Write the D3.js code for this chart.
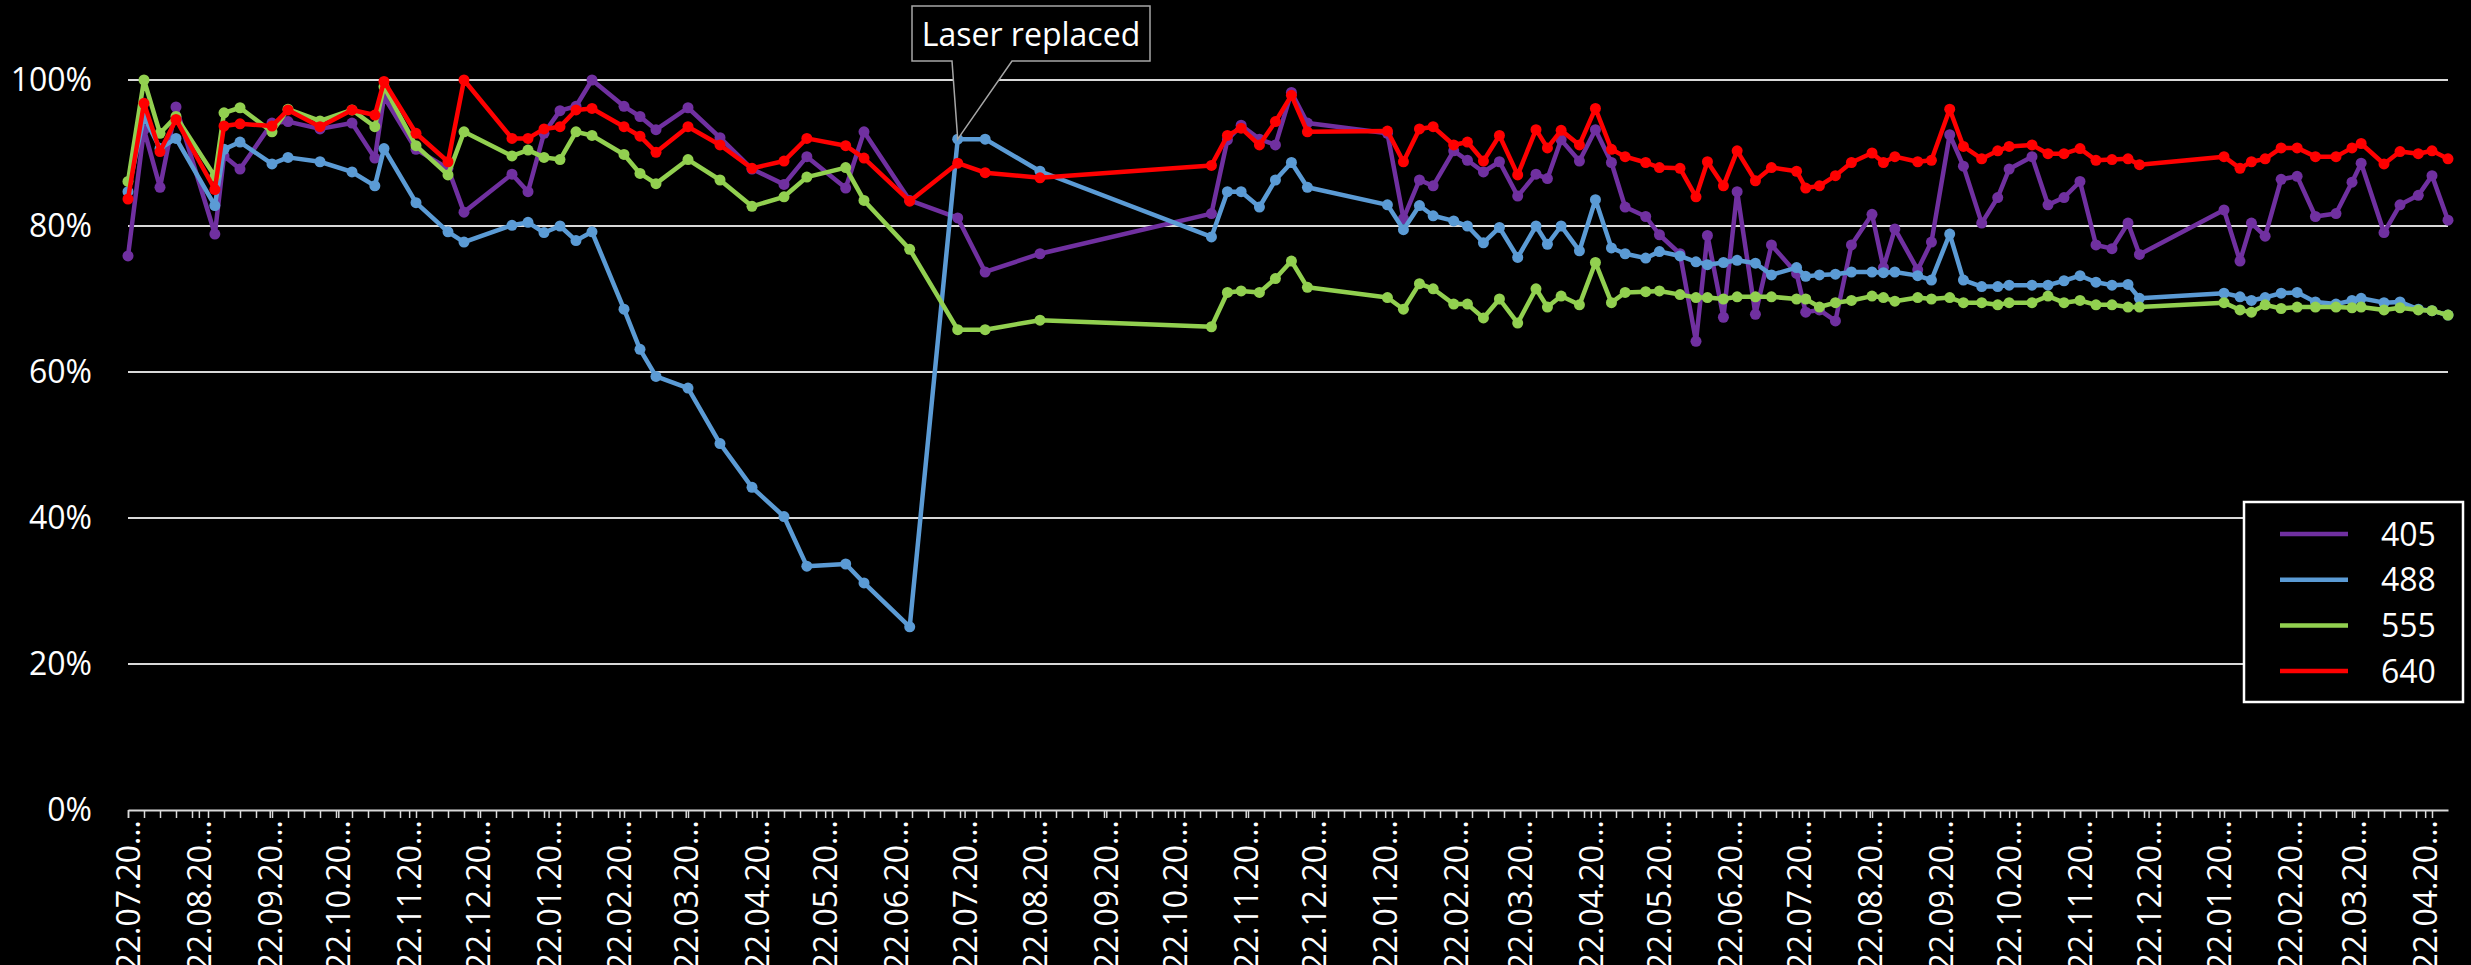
<!DOCTYPE html>
<html>
<head>
<meta charset="utf-8">
<script src="https://cdn.jsdelivr.net/npm/d3@7"></script>
<style>
  html, body { margin: 0; padding: 0; background: #000; }
  svg { display: block; font-family: "Open Sans", sans-serif; }
</style>
</head>
<body>
<svg id="chart" width="2471" height="965"></svg>
<script>
// measurement dates (shared by all four lasers)
const dates = [
  "2019-07-22","2019-07-29","2019-08-05","2019-08-12","2019-08-29","2019-09-02","2019-09-09","2019-09-23","2019-09-30","2019-10-14",
  "2019-10-28","2019-11-07","2019-11-11","2019-11-25","2019-12-09","2019-12-16","2020-01-06","2020-01-13","2020-01-20","2020-01-27",
  "2020-02-03","2020-02-10","2020-02-24","2020-03-02","2020-03-09","2020-03-23","2020-04-06","2020-04-20","2020-05-04","2020-05-14",
  "2020-05-31","2020-06-08","2020-06-28","2020-07-19","2020-07-31","2020-08-24","2020-11-07","2020-11-14","2020-11-20","2020-11-28",
  "2020-12-05","2020-12-12","2020-12-19","2021-01-23","2021-01-30","2021-02-06","2021-02-12","2021-02-21","2021-02-27","2021-03-06",
  "2021-03-13","2021-03-21","2021-03-29","2021-04-03","2021-04-09","2021-04-17","2021-04-24","2021-05-01","2021-05-07","2021-05-16",
  "2021-05-22","2021-05-31","2021-06-07","2021-06-12","2021-06-19","2021-06-25","2021-07-03","2021-07-10","2021-07-21","2021-07-25",
  "2021-07-31","2021-08-07","2021-08-14","2021-08-23","2021-08-28","2021-09-02","2021-09-12","2021-09-18","2021-09-26","2021-10-02",
  "2021-10-10","2021-10-17","2021-10-22","2021-11-01","2021-11-08","2021-11-15","2021-11-22","2021-11-29","2021-12-06","2021-12-13",
  "2021-12-18","2022-01-24","2022-01-31","2022-02-05","2022-02-11","2022-02-18","2022-02-25","2022-03-05","2022-03-14","2022-03-21",
  "2022-03-25","2022-04-04","2022-04-11","2022-04-19","2022-04-25","2022-05-02"
];

const laser405 = [
  75.9, 93.2, 85.3, 96.3, 78.9, 89.6, 87.8, 94.1, 94.3, 93.3,
  94.1, 89.3, 97.7, 90.5, 87.9, 81.9, 87.1, 84.7, 92.7, 95.8,
  96.4, 100, 96.4, 95.0, 93.2, 96.2, 92.1, 87.8, 85.7, 89.5,
  85.2, 92.9, 83.5, 81.1, 73.7, 76.2, 81.7, 91.8, 93.8, 91.9,
  91.1, 98.3, 94.1, 92.7, 81.0, 86.3, 85.5, 90.3, 89.0, 87.4,
  88.8, 84.1, 87.1, 86.5, 91.8, 88.9, 93.2, 88.7, 82.6, 81.3,
  78.8, 76.2, 64.2, 78.7, 67.5, 84.7, 67.9, 77.4, 73.5, 68.2,
  68.5, 67.0, 77.4, 81.6, 74.3, 79.6, 74.0, 77.8, 92.5, 88.2,
  80.4, 83.9, 87.8, 89.5, 82.9, 83.9, 86.1, 77.4, 76.9, 80.4,
  76.1, 82.2, 75.2, 80.4, 78.6, 86.4, 86.8, 81.3, 81.7, 86.0,
  88.6, 79.1, 82.9, 84.2, 86.9, 80.8
];

const laser488 = [
  84.7, 95.0, 90.6, 92.0, 82.8, 90.5, 91.5, 88.5, 89.4, 88.8,
  87.4, 85.5, 90.6, 83.2, 79.2, 77.8, 80.1, 80.5, 79.1, 80.0,
  78.0, 79.2, 68.6, 63.1, 59.4, 57.8, 50.2, 44.2, 40.2, 33.4,
  33.7, 31.1, 25.1, 91.9, 91.9, 87.5, 78.5, 84.7, 84.7, 82.6,
  86.3, 88.7, 85.3, 82.9, 79.5, 82.8, 81.4, 80.7, 80.0, 77.7,
  79.8, 75.7, 80.0, 77.5, 80.0, 76.6, 83.6, 77.0, 76.2, 75.6,
  76.5, 75.9, 75.1, 74.7, 75.0, 75.3, 74.9, 73.3, 74.3, 73.1,
  73.3, 73.4, 73.7, 73.7, 73.6, 73.7, 73.2, 72.6, 78.9, 72.6,
  71.7, 71.7, 71.9, 71.9, 71.9, 72.5, 73.2, 72.3, 71.9, 72.0,
  70.1, 70.8, 70.3, 69.8, 70.2, 70.8, 70.9, 69.6, 69.3, 69.8,
  70.1, 69.5, 69.6, 68.6, 68.4, 67.8
];

const laser555 = [
  86.1, 100, 92.7, 95.0, 86.8, 95.5, 96.2, 92.9, 96.0, 94.4,
  95.9, 93.6, 99.1, 91.0, 87.0, 92.9, 89.6, 90.4, 89.4, 89.1,
  92.9, 92.4, 89.8, 87.2, 85.8, 89.1, 86.3, 82.7, 84.0, 86.7,
  88.0, 83.5, 76.8, 65.8, 65.8, 67.1, 66.2, 70.9, 71.1, 70.9,
  72.8, 75.2, 71.6, 70.2, 68.6, 72.1, 71.4, 69.3, 69.3, 67.4,
  70.0, 66.7, 71.4, 68.9, 70.4, 69.2, 75.0, 69.5, 70.9, 71.0,
  71.1, 70.6, 70.2, 70.2, 70.0, 70.3, 70.3, 70.3, 70.0, 70.0,
  68.9, 69.5, 69.8, 70.4, 70.2, 69.7, 70.2, 70.0, 70.2, 69.5,
  69.5, 69.2, 69.5, 69.5, 70.4, 69.5, 69.8, 69.2, 69.2, 68.9,
  68.9, 69.5, 68.5, 68.2, 69.2, 68.7, 68.9, 68.9, 68.9, 68.8,
  68.9, 68.5, 68.8, 68.5, 68.4, 67.8
];

const laser640 = [
  83.7, 96.8, 90.2, 94.6, 85.0, 93.7, 94.0, 93.7, 95.9, 93.6,
  95.9, 95.2, 99.8, 92.7, 88.8, 100, 92.0, 92.0, 93.3, 93.6,
  95.9, 96.1, 93.6, 92.3, 90.1, 93.6, 91.1, 87.9, 88.9, 92.0,
  91.0, 89.3, 83.4, 88.6, 87.3, 86.6, 88.3, 92.4, 93.4, 91.1,
  94.3, 97.9, 92.9, 93.0, 88.8, 93.3, 93.6, 91.1, 91.5, 88.9,
  92.4, 87.0, 93.2, 90.7, 93.1, 91.1, 96.1, 90.5, 89.5, 88.7,
  88.0, 87.9, 84.0, 88.8, 85.5, 90.3, 86.2, 88.0, 87.5, 85.2,
  85.5, 86.9, 88.7, 90.0, 88.7, 89.5, 88.8, 89.0, 96.0, 90.9,
  89.2, 90.3, 90.9, 91.1, 89.9, 89.9, 90.6, 89.0, 89.1, 89.2,
  88.4, 89.5, 87.9, 88.8, 89.2, 90.7, 90.7, 89.5, 89.5, 90.7,
  91.3, 88.5, 90.2, 89.9, 90.3, 89.2
];

const seriesNames = ["405", "488", "555", "640"];
const seriesValues = [laser405, laser488, laser555, laser640];
const seriesColors = ["#7030A0", "#5B9BD5", "#92D050", "#FF0000"];
const yTicks = [0, 20, 40, 60, 80, 100];

const annotationText = "Laser replaced";
const annotationDate = "2020-07-19";
const annotationSeries = "488";

const parse = d3.utcParse("%Y-%m-%d");
const fmt = d3.utcFormat("%d.%m.%Y");
const parsedDates = dates.map(parse);

const svg = d3.select("#chart");
const plotLeft = 128, plotRight = 2448, plotTop = 80, plotBottom = 810;

const x = d3.scaleUtc()
    .domain(d3.extent(parsedDates))
    .range([plotLeft, plotRight]);

const y = d3.scaleLinear()
    .domain([0, 100])
    .range([plotBottom, plotTop]);

// gridlines
svg.append("g")
    .selectAll("line")
    .data(yTicks.filter(t => t > 0))
    .enter().append("line")
    .attr("x1", plotLeft).attr("x2", plotRight)
    .attr("y1", d => y(d)).attr("y2", d => y(d))
    .attr("stroke", "#d9d9d9")
    .attr("stroke-width", 2);

// y axis labels
let yAxis = svg.append("g")
    .attr("transform", "translate(" + (plotLeft - 36) + ",0)")
    .call(d3.axisLeft(y).tickValues(yTicks).tickSize(0).tickPadding(0).tickFormat(d => d + "%"));
yAxis.select(".domain").remove();
yAxis.selectAll("text")
    .attr("fill", "#fff")
    .style("font-size", "32px")
    .style("font-family", "'Open Sans', sans-serif");

// x axis: monthly major ticks on the 22nd, weekly minor ticks
const [d0, d1] = x.domain();
const majorTicks = d3.range(0, 40).map(i => d3.utcMonth.offset(d0, i)).filter(d => d <= d1);
const minorTicks = d3.utcDay.range(d0, d1, 7);

let minorAxis = svg.append("g")
    .attr("transform", "translate(0," + plotBottom + ")")
    .call(d3.axisBottom(x).tickValues(minorTicks).tickSize(8).tickFormat(""));
minorAxis.selectAll("line").attr("stroke", "#d9d9d9").attr("stroke-width", 1.5);
minorAxis.select(".domain").remove();

let xAxis = svg.append("g")
    .attr("transform", "translate(0," + plotBottom + ")")
    .call(d3.axisBottom(x).tickValues(majorTicks).tickSize(8).tickSizeOuter(0)
        .tickFormat(d => fmt(d).slice(0, 8) + "…"));
xAxis.select(".domain").attr("stroke", "#d9d9d9").attr("stroke-width", 2);
xAxis.selectAll("line").attr("stroke", "#d9d9d9").attr("stroke-width", 1.5);
xAxis.selectAll("text")
    .attr("fill", "#fff")
    .attr("transform", "rotate(-90)")
    .attr("x", -10)
    .attr("y", 0)
    .attr("dy", "0.36em")
    .style("text-anchor", "end")
    .style("font-size", "32px")
    .style("font-family", "'Open Sans', sans-serif");

// series lines + markers
const line = d3.line()
    .x(d => x(d.date))
    .y(d => y(d.value));

seriesNames.forEach((name, i) => {
    let pts = parsedDates.map((d, j) => ({date: d, value: seriesValues[i][j]}));
    let g = svg.append("g");
    g.append("path")
        .datum(pts)
        .attr("d", line)
        .attr("fill", "none")
        .attr("stroke", seriesColors[i])
        .attr("stroke-width", 4.5)
        .attr("stroke-linejoin", "round");
    g.selectAll("circle")
        .data(pts)
        .enter().append("circle")
        .attr("cx", d => x(d.date))
        .attr("cy", d => y(d.value))
        .attr("r", 5.5)
        .attr("fill", seriesColors[i]);
});

// callout
const aIdx = dates.indexOf(annotationDate);
const ax = x(parsedDates[aIdx]);
const ay = y(seriesValues[seriesNames.indexOf(annotationSeries)][aIdx]);
const bx0 = 912, bx1 = 1150, by0 = 6, by1 = 61;
svg.append("path")
    .attr("d", "M" + bx0 + "," + by0 + "H" + bx1 + "V" + by1 + "H1012L" + ax + "," + ay + "L952," + by1 + "H" + bx0 + "Z")
    .attr("fill", "#000")
    .attr("stroke", "#a6a6a6")
    .attr("stroke-width", 1.5);
svg.append("text")
    .attr("x", (bx0 + bx1) / 2)
    .attr("y", 46)
    .attr("text-anchor", "middle")
    .attr("fill", "#fff")
    .style("font-size", "32px")
    .text(annotationText);

// legend
let legend = svg.append("g");
legend.append("rect")
    .attr("x", 2244).attr("y", 502)
    .attr("width", 219).attr("height", 200)
    .attr("fill", "#000")
    .attr("stroke", "#fff")
    .attr("stroke-width", 2.5);
let items = legend.selectAll("g")
    .data(seriesNames)
    .enter().append("g")
    .attr("transform", (d, i) => "translate(0," + (534 + i * 45.7) + ")");
items.append("line")
    .attr("x1", 2280).attr("x2", 2348)
    .attr("stroke", (d, i) => seriesColors[i])
    .attr("stroke-width", 4.5);
items.append("text")
    .attr("x", 2381)
    .attr("dy", "0.36em")
    .attr("fill", "#fff")
    .style("font-size", "32px")
    .text(d => d);
</script>
</body>
</html>
